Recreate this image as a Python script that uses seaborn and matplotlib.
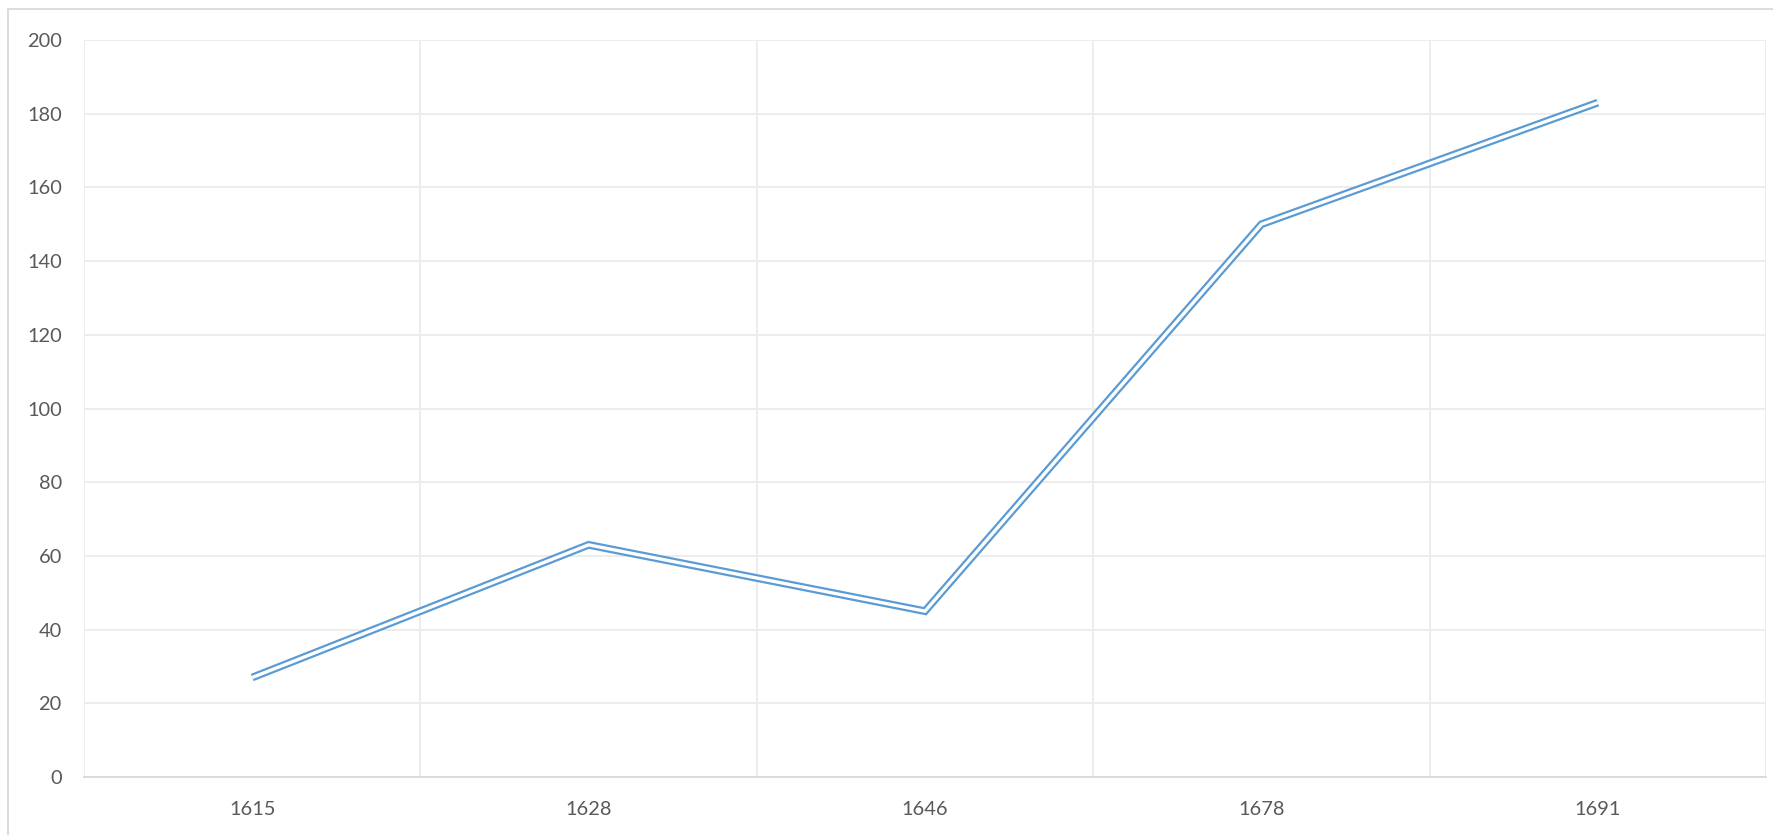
import matplotlib
matplotlib.use("Agg")
import matplotlib.pyplot as plt
import seaborn as sns
import pandas as pd
from matplotlib.patches import Rectangle

years = ["1615", "1628", "1646", "1678", "1691"]
values = [27, 63, 45, 150, 183]
y_ticks = [0, 20, 40, 60, 80, 100, 120, 140, 160, 180, 200]

df = pd.DataFrame({"year": years, "value": values})

sns.set_theme(style="white")
plt.rcParams["font.family"] = ["Lato", "DejaVu Sans"]

W, H, DPI = 1773, 835, 100
fig = plt.figure(figsize=(W / DPI, H / DPI), dpi=DPI)
ax = fig.add_axes([84 / W, 1 - 777 / H, (1766 - 84) / W, (777 - 40) / H])

line_color = "#5b9bd5"
sns.lineplot(data=df, x="year", y="value", ax=ax, color=line_color,
             linewidth=5.6, sort=False, solid_joinstyle="miter",
             solid_capstyle="butt")
sns.lineplot(data=df, x="year", y="value", ax=ax, color="white",
             linewidth=2.4, sort=False, solid_joinstyle="miter",
             solid_capstyle="butt")

ax.set_xlim(-0.5, len(years) - 0.5)
ax.set_ylim(0, 200)
ax.set_yticks(y_ticks)
ax.set_xticks(range(len(years)))
ax.set_xticklabels(years)
ax.set_xticks([i - 0.5 for i in range(len(years) + 1)], minor=True)
ax.set_xlabel("")
ax.set_ylabel("")

grid_c = "#ececec"
ax.grid(True, axis="y", which="major", color=grid_c, linewidth=1.3)
ax.grid(True, axis="x", which="minor", color=grid_c, linewidth=1.3)
ax.grid(False, axis="x", which="major")
ax.set_axisbelow(True)

for s in ["top", "right", "left"]:
    ax.spines[s].set_visible(False)
ax.spines["bottom"].set_color("#d9d9d9")
ax.spines["bottom"].set_linewidth(1.3)

ax.tick_params(axis="both", which="both", length=0, labelsize=14.4,
               labelcolor="#595959")
ax.tick_params(axis="y", pad=16)
ax.tick_params(axis="x", pad=17)

# chart area border
fig.patches.append(Rectangle((8 / W, -0.1), 1.2, (1 - 9 / H) + 0.1,
                             transform=fig.transFigure, fill=False,
                             edgecolor="#d9d9d9", linewidth=1.3))

fig.savefig("out.png", dpi=DPI, facecolor="white")
